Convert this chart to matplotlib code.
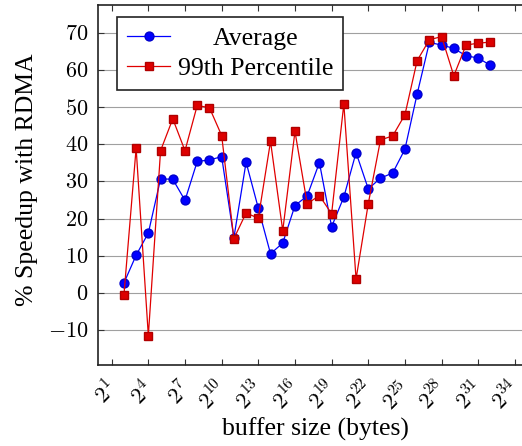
import math
import matplotlib
matplotlib.use("Agg")
import matplotlib.pyplot as plt
import matplotlib.transforms as mtransforms
from matplotlib.ticker import FixedLocator, FuncFormatter, NullLocator

plt.rcParams['font.family'] = ['Liberation Serif', 'DejaVu Serif']
plt.rcParams['mathtext.fontset'] = 'cm'

exponents = list(range(2, 33))
average = [2.6, 10.1, 16.1, 30.7, 30.6, 24.9, 35.4, 35.8, 36.7, 14.8,
           35.2, 22.8, 10.5, 13.4, 23.5, 26.1, 35.1, 17.8, 25.8, 37.8,
           28.0, 30.9, 32.3, 38.7, 53.6, 67.5, 66.8, 65.9, 63.9, 63.3, 61.3]
p99 = [-0.7, 39.0, -11.6, 38.3, 46.9, 38.3, 50.5, 49.9, 42.4, 14.6,
       21.5, 20.1, 40.8, 16.7, 43.5, 24.0, 26.2, 21.3, 50.9, 3.7,
       24.0, 41.2, 42.3, 48.0, 62.6, 68.2, 69.1, 58.5, 66.8, 67.3, 67.6]
xtick_exps = list(range(1, 35, 3))
yticks = [-10, 0, 10, 20, 30, 40, 50, 60, 70]

W, H = 522, 446
fig = plt.figure(figsize=(W / 100, H / 100), dpi=100)
left, right, top, bottom = 98, 532, 5, 365
AW, AH = right - left, bottom - top
ax = fig.add_axes([left / W, 1 - bottom / H, AW / W, AH / H])

xs = [2.0 ** e for e in exponents]
ax.plot(xs, average, color='#0000ff', lw=0.9, marker='o', ms=6.4,
        mec='#0000cc', mfc='#0000ff', label='Average', zorder=3)
ax.plot(xs, p99, color='#e00000', lw=0.9, marker='s', ms=6.0,
        mec='#b00000', mfc='#dd0000', label='99th Percentile', zorder=3)

ax.set_xscale('log', base=2)
ax.set_xlim(2.0 ** -0.12, 2.0 ** 35.4)
ax.set_ylim(-19.5, 77.6)

ax.xaxis.set_major_locator(FixedLocator([2.0 ** e for e in xtick_exps]))
ax.xaxis.set_minor_locator(NullLocator())
ax.xaxis.set_major_formatter(FuncFormatter(lambda v, p: r'$2^{%d}$' % round(math.log2(v))))
ax.yaxis.set_major_locator(FixedLocator(yticks))
ax.yaxis.set_major_formatter(FuncFormatter(lambda v, p: r'$%d$' % v))

ax.tick_params(axis='both', direction='in', length=4, width=0.8, color='#333333',
               top=True, right=True)
ax.tick_params(axis='y', labelsize=16, pad=7)
ax.tick_params(axis='x', labelsize=16, pad=9)
shift = mtransforms.ScaledTranslation(-6 / 100, 0, fig.dpi_scale_trans)
for lbl in ax.get_xticklabels():
    lbl.set_rotation(45)
    lbl.set_ha('right')
    lbl.set_va('top')
    lbl.set_rotation_mode('anchor')
    lbl.set_transform(lbl.get_transform() + shift)

ax.grid(axis='y', color='#a0a0a0', lw=0.8)
ax.set_axisbelow(True)
for s in ax.spines.values():
    s.set_linewidth(1.2)
    s.set_color('#222222')

ax.set_xlabel('buffer size (bytes)', fontsize=18.5)
ax.xaxis.set_label_coords(0.5, (bottom - 418) / AH)
ax.set_ylabel('% Speedup with RDMA', fontsize=18.5)
ax.yaxis.set_label_coords((38 - left) / AW, (bottom - 180) / AH)

leg = ax.legend(loc='upper left', bbox_to_anchor=((117 - left) / AW, (bottom - 17) / AH),
                borderaxespad=0, fontsize=18.5, frameon=True, fancybox=False,
                edgecolor='#222222', handlelength=1.7, handletextpad=0.3,
                borderpad=0.38, labelspacing=0.3, framealpha=1)
leg.get_frame().set_linewidth(1.2)

fig.canvas.draw()
r = fig.canvas.get_renderer()
t_avg, t_p99 = leg.get_texts()
dx = (t_p99.get_window_extent(r).width - t_avg.get_window_extent(r).width) / 2
t_avg.set_x(dx)

fig.savefig('out.png', dpi=100)
